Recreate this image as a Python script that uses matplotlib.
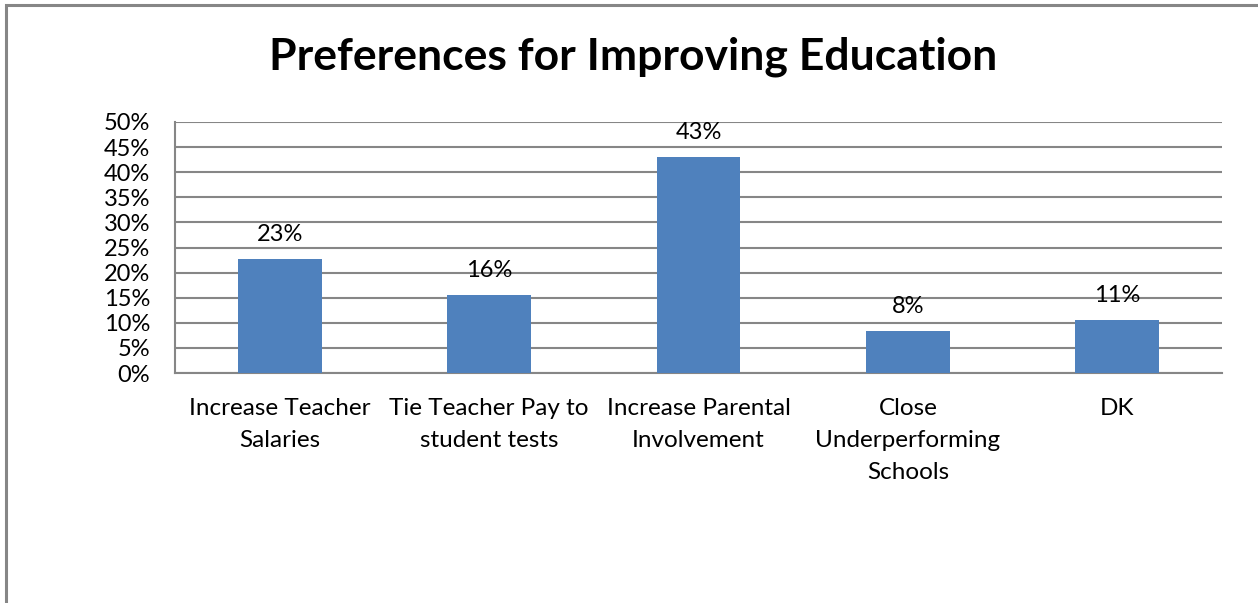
import matplotlib.pyplot as plt
from matplotlib.patches import Rectangle

categories = ['Increase Teacher\nSalaries', 'Tie Teacher Pay to\nstudent tests',
              'Increase Parental\nInvolvement', 'Close\nUnderperforming\nSchools', 'DK']
values = [0.227, 0.155, 0.430, 0.084, 0.106]
value_labels = ['23%', '16%', '43%', '8%', '11%']
yticks = [0.0, 0.05, 0.10, 0.15, 0.20, 0.25, 0.30, 0.35, 0.40, 0.45, 0.50]

plt.rcParams['font.family'] = ['Lato', 'DejaVu Sans']

W, H = 1258, 603
fig = plt.figure(figsize=(W / 100, H / 100), dpi=100)

# outer chart border (right and bottom edges cut off in the original)
fig.patches.append(Rectangle((6 / W, -0.1), 1.2, 1.1 - 5.5 / H, transform=fig.transFigure,
                             fill=False, edgecolor='#868686', linewidth=2.2))

ax = fig.add_axes([175 / W, 1 - 373 / H, (1222 - 175) / W, (373 - 122) / H])
x = range(len(categories))
ax.bar(x, values, width=0.4, color='#4F81BD', zorder=3)
for i, (v, lab) in enumerate(zip(values, value_labels)):
    ax.annotate(lab, (i, v), xytext=(0, 10), textcoords='offset points',
                ha='center', va='bottom', fontsize=17)

ax.set_xlim(-0.5, len(categories) - 0.5)
ax.set_ylim(0, 0.5)
ax.set_yticks(yticks)
ax.set_yticklabels(['%d%%' % round(t * 100) for t in yticks], fontsize=17)
ax.set_xticks(list(x))
ax.set_xticklabels(categories, fontsize=17.5, linespacing=1.65, va='top')
ax.tick_params(axis='both', length=0)
ax.tick_params(axis='y', pad=18)
ax.tick_params(axis='x', pad=18)
ax.yaxis.grid(True, color='#868686', linewidth=1.5, zorder=0)
for s in ['top', 'right']:
    ax.spines[s].set_visible(False)
for s in ['left', 'bottom']:
    ax.spines[s].set_color('#868686')
    ax.spines[s].set_linewidth(1.5)

fig.text(633 / W, 1 - 57 / H, 'Preferences for Improving Education', ha='center', va='center',
         fontsize=32, fontweight='bold')

fig.savefig('out.png', dpi=100)
